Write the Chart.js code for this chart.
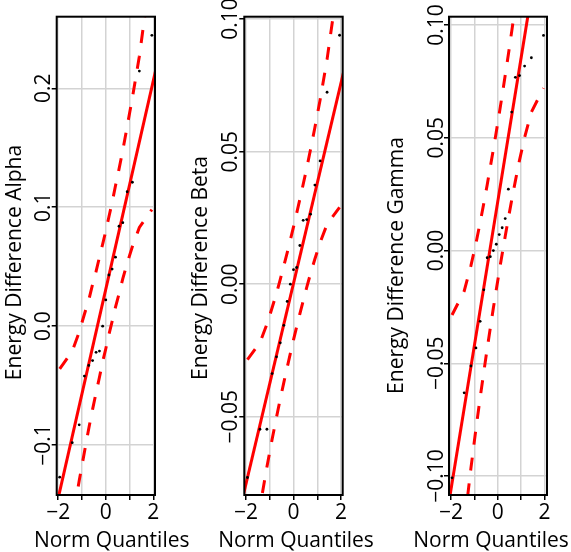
<!DOCTYPE html>
<html>
<head>
<meta charset="utf-8">
<script src="https://cdn.jsdelivr.net/npm/chart.js@4.4.1/dist/chart.umd.min.js"></script>
<style>
  body { margin: 0; background: #fff; }
  #wrap { position: relative; width: 571px; height: 552px; }
  #wrap canvas { position: absolute; left: 0; top: 0; }
</style>
</head>
<body>
<div id="wrap">
  <canvas id="alphaChart" width="571" height="552"></canvas>
  <canvas id="betaChart" width="571" height="552"></canvas>
  <canvas id="gammaChart" width="571" height="552"></canvas>
</div>
<script>
// theoretical normal quantiles (x) for 19 and 20 samples
var qx19 = [-1.938, -1.412, -1.119, -0.900, -0.716, -0.556, -0.408, -0.267, -0.132, 0, 0.132, 0.267, 0.408, 0.556, 0.716, 0.900, 1.119, 1.412, 1.938];
var qx20 = [-1.960, -1.440, -1.150, -0.935, -0.755, -0.598, -0.454, -0.319, -0.189, -0.063, 0.063, 0.189, 0.319, 0.454, 0.598, 0.755, 0.935, 1.150, 1.440, 1.960];

// sample quantiles
var alphaY = [-0.127, -0.098, -0.083, -0.042, -0.033, -0.029, -0.022, -0.021, 0.000, 0.022, 0.043, 0.048, 0.058, 0.084, 0.087, 0.113, 0.121, 0.2145, 0.2445];
var betaY = [-0.0729, -0.0547, -0.0547, -0.0337, -0.0274, -0.0221, -0.0155, -0.0065, 0.0000, 0.0055, 0.0063, 0.0146, 0.0241, 0.0244, 0.0264, 0.0374, 0.0465, 0.0724, 0.0939];
var gammaY = [-0.1008, -0.0631, -0.0512, -0.0432, -0.0314, -0.0174, -0.0032, -0.0027, 0.0000, 0.0028, 0.0071, 0.0101, 0.0142, 0.0272, 0.0614, 0.0768, 0.0776, 0.0818, 0.0855, 0.0954];

// confidence envelope
var alphaUpper = [-0.036, -0.021, -0.005, 0.010, 0.022, 0.035, 0.046, 0.058, 0.069, 0.080, 0.092, 0.104, 0.118, 0.132, 0.148, 0.168, 0.192, 0.227, 0.305];
var alphaLower = [-0.243, -0.165, -0.130, -0.106, -0.086, -0.070, -0.056, -0.043, -0.030, -0.019, -0.007, 0.004, 0.016, 0.027, 0.040, 0.053, 0.067, 0.083, 0.098];
var betaUpper = [-0.0284, -0.0220, -0.0151, -0.0089, -0.0034, 0.0018, 0.0069, 0.0118, 0.0167, 0.0216, 0.0267, 0.0320, 0.0377, 0.0438, 0.0508, 0.0591, 0.0695, 0.0848, 0.1182];
var betaLower = [-0.1176, -0.0842, -0.0689, -0.0585, -0.0502, -0.0432, -0.0371, -0.0314, -0.0261, -0.0210, -0.0161, -0.0112, -0.0063, -0.0012, 0.0040, 0.0095, 0.0157, 0.0226, 0.0290];
var gammaUpper = [-0.0286, -0.0180, -0.0067, 0.0032, 0.0125, 0.0210, 0.0291, 0.0371, 0.0449, 0.0527, 0.0607, 0.0689, 0.0777, 0.0869, 0.0972, 0.1087, 0.1224, 0.1399, 0.1654, 0.2212];
var gammaLower = [-0.1778, -0.1220, -0.0965, -0.0790, -0.0653, -0.0538, -0.0435, -0.0343, -0.0255, -0.0173, -0.0093, -0.0015, 0.0063, 0.0143, 0.0224, 0.0309, 0.0402, 0.0501, 0.0614, 0.0720];

// reference line end points
var alphaLineX = [-2.2, 2.2], alphaLineY = [-0.162, 0.224];
var betaLineX = [-2.2, 2.2], betaLineY = [-0.0829, 0.0835];
var gammaLineX = [-2.2, 1.5], gammaLineY = [-0.1184, 0.1173];

// ticks
var xTicks = [-2, -1, 0, 1, 2];
var xTickLabels = ['\u22122', '', '0', '', '2'];
var alphaTicks = [-0.1, 0.0, 0.1, 0.2];
var alphaTickLabels = ['\u22120.1', '0.0', '0.1', '0.2'];
var betaTicks = [-0.05, 0.00, 0.05, 0.10];
var betaTickLabels = ['\u22120.05', '0.00', '0.05', '0.10'];
var gammaTicks = [-0.10, -0.05, 0.00, 0.05, 0.10];
var gammaTickLabels = ['\u22120.10', '\u22120.05', '0.00', '0.05', '0.10'];

var FONT = 'Open Sans';

function pts(xs, ys) {
  return xs.map(function (x, i) { return { x: x, y: ys[i] }; });
}

function rotText(ctx, txt, x, y) {
  ctx.save();
  ctx.translate(x, y);
  ctx.rotate(-Math.PI / 2);
  ctx.fillText(txt, 0, 0);
  ctx.restore();
}

var frameAndText = {
  id: 'frameAndText',
  afterDraw: function (chart, args, o) {
    var ctx = chart.ctx, a = chart.chartArea, ys = chart.scales.y;
    ctx.save();
    ctx.strokeStyle = '#000';
    ctx.lineWidth = 2;
    ctx.strokeRect(a.left, a.top, a.right - a.left, a.bottom - a.top);
    ctx.fillStyle = '#000';
    ctx.textAlign = 'center';
    ctx.textBaseline = 'alphabetic';
    ctx.font = '21px "' + FONT + '"';
    o.ticks.forEach(function (v, i) {
      rotText(ctx, o.tickLabels[i], o.tickBase, ys.getPixelForValue(v));
    });
    ctx.font = '21px "' + FONT + '"';
    rotText(ctx, o.title, o.titleBase, o.titleMid);
    ctx.fillText('Norm Quantiles', o.xTitleMid, 546.5);
    ctx.restore();
  }
};

function makePanel(id, p) {
  return new Chart(document.getElementById(id), {
    type: 'scatter',
    data: {
      datasets: [{
        data: pts(p.qx, p.y),
        backgroundColor: '#000',
        borderWidth: 0,
        pointRadius: 1.4,
        order: 0
      }, {
        data: pts(p.lineX, p.lineY),
        showLine: true,
        borderColor: '#ff0000',
        borderWidth: 3,
        pointRadius: 0,
        clip: 0,
        order: 1
      }, {
        data: pts(p.qx, p.upper),
        showLine: true,
        borderColor: '#ff0000',
        borderWidth: 3,
        borderDash: [13, 13],
        pointRadius: 0,
        clip: 0,
        order: 2
      }, {
        data: pts(p.qx, p.lower),
        showLine: true,
        borderColor: '#ff0000',
        borderWidth: 3,
        borderDash: [13, 13],
        pointRadius: 0,
        clip: 0,
        order: 2
      }]
    },
    options: {
      responsive: false,
      animation: false,
      events: [],
      layout: { padding: { left: p.left, right: 571 - p.right, top: 16.7, bottom: 0 } },
      plugins: {
        legend: { display: false },
        tooltip: { enabled: false },
        frameAndText: {
          ticks: p.ticks, tickLabels: p.tickLabels, tickBase: p.tickBase,
          title: p.title, titleBase: p.titleBase, titleMid: p.titleMid,
          xTitleMid: p.xTitleMid
        }
      },
      scales: {
        x: {
          type: 'linear',
          min: p.xmin, max: p.xmax,
          afterBuildTicks: function (s) { s.ticks = xTicks.map(function (v) { return { value: v }; }); },
          afterFit: function (s) { s.height = 57; },
          border: { display: false },
          grid: { color: '#d3d3d3', lineWidth: 1.5, tickColor: '#000', tickLength: 5, tickWidth: 1.5 },
          ticks: {
            autoSkip: false, maxRotation: 0, padding: 0, color: '#000',
            font: { family: FONT, size: 21 },
            callback: function (v, i) { return xTickLabels[i]; }
          }
        },
        y: {
          type: 'linear',
          min: p.ymin, max: p.ymax,
          afterBuildTicks: function (s) { s.ticks = p.ticks.map(function (v) { return { value: v }; }); },
          afterFit: function (s) { s.width = 0; },
          border: { display: false },
          grid: { color: '#d3d3d3', lineWidth: 1.5, tickColor: '#000', tickLength: 5, tickWidth: 1.5 },
          ticks: { display: false }
        }
      }
    },
    plugins: [frameAndText]
  });
}

makePanel('alphaChart', {
  qx: qx19, y: alphaY, upper: alphaUpper, lower: alphaLower,
  lineX: alphaLineX, lineY: alphaLineY,
  ticks: alphaTicks, tickLabels: alphaTickLabels,
  left: 56.7, right: 155, xmin: -2.065, xmax: 2.07, ymin: -0.142, ymax: 0.2602,
  tickBase: 50, title: 'Energy Difference Alpha', titleBase: 21, titleMid: 262.5, xTitleMid: 111.7
});
makePanel('betaChart', {
  qx: qx19, y: betaY, upper: betaUpper, lower: betaLower,
  lineX: betaLineX, lineY: betaLineY,
  ticks: betaTicks, tickLabels: betaTickLabels,
  left: 244.3, right: 342.7, xmin: -2.07, xmax: 2.07, ymin: -0.0795, ymax: 0.1009,
  tickBase: 236.7, title: 'Energy Difference Beta', titleBase: 206.7, titleMid: 268, xTitleMid: 296
});
makePanel('gammaChart', {
  qx: qx20, y: gammaY, upper: gammaUpper, lower: gammaLower,
  lineX: gammaLineX, lineY: gammaLineY,
  ticks: gammaTicks, tickLabels: gammaTickLabels,
  left: 449, right: 547, xmin: -2.09, xmax: 2.11, ymin: -0.1084, ymax: 0.1037,
  tickBase: 443.3, title: 'Energy Difference Gamma', titleBase: 402.7, titleMid: 265.5, xTitleMid: 491
});
</script>
</body>
</html>
